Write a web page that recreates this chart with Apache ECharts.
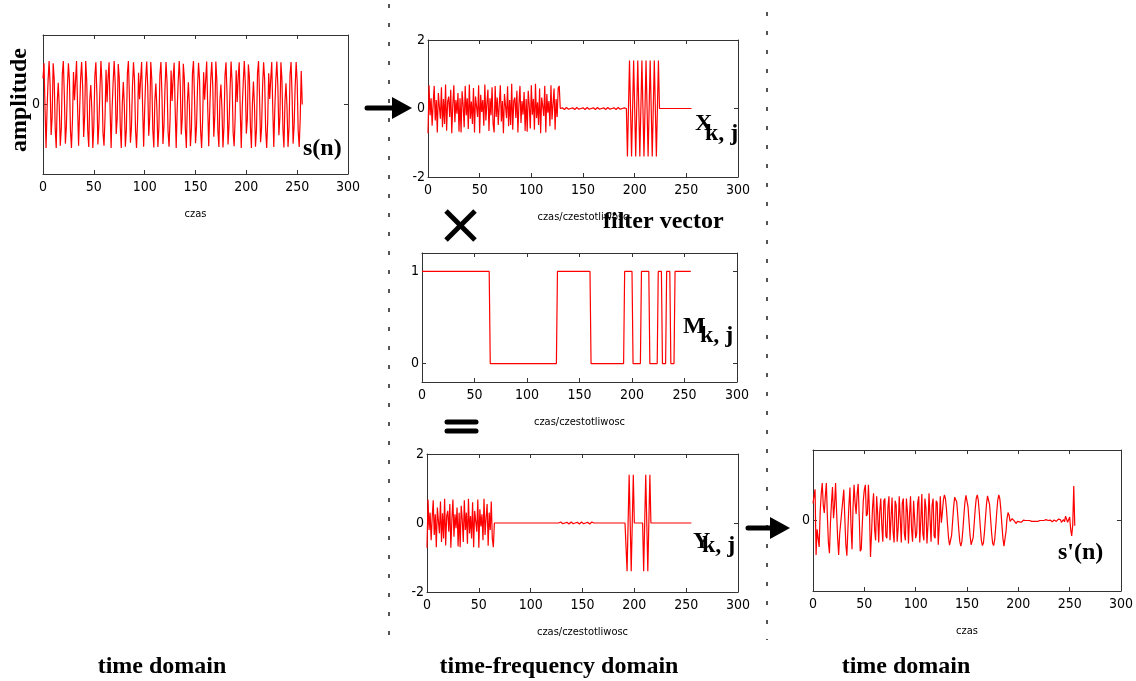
<!DOCTYPE html>
<html><head><meta charset="utf-8">
<script src="https://cdn.jsdelivr.net/npm/echarts@6/dist/echarts.min.js"></script>
<style>html,body{margin:0;padding:0;background:#fff}#c{width:1136px;height:681px}</style>
</head><body><div id="c"></div>
<script>
// ---------- data ----------
const xTickValues = [0, 50, 100, 150, 200, 250, 300];
const xNameTime = 'czas';
const xNameTF = 'czas/czestotliwosc';

// s(n) : original signal, 256 samples
const sSignal = [
 0.60,0.95,-0.10,-1.00,-0.10,0.55,1.00,0.45,-0.70,-0.30,0.95,0.60,-0.55,-1.00,0.05,0.50,-0.05,-0.95,-0.55,0.70,1.00,0.20,-0.90,-0.50,0.40,0.95,0.55,-0.60,-1.00,-0.35,0.75,0.10,
 0.55,1.00,-0.05,-0.95,-0.15,0.60,0.98,0.40,-0.75,-0.25,1.00,0.55,-0.60,-0.98,0.10,0.45,-0.10,-1.00,-0.50,0.65,0.97,0.25,-0.92,-0.45,0.35,1.00,0.50,-0.65,-0.95,-0.30,0.80,0.05,
 0.62,0.97,-0.12,-1.00,-0.08,0.52,1.00,0.48,-0.68,-0.32,0.93,0.62,-0.52,-1.00,0.02,0.52,-0.02,-0.97,-0.58,0.72,1.00,0.18,-0.88,-0.52,0.42,0.97,0.57,-0.58,-1.00,-0.38,0.73,0.12,
 0.58,0.98,-0.08,-0.97,-0.12,0.58,0.99,0.42,-0.72,-0.28,0.98,0.58,-0.58,-0.99,0.08,0.48,-0.08,-0.98,-0.52,0.68,0.98,0.22,-0.91,-0.48,0.38,0.98,0.52,-0.62,-0.97,-0.32,0.78,0.08,
 0.61,0.96,-0.11,-1.00,-0.09,0.54,1.00,0.46,-0.69,-0.31,0.94,0.61,-0.54,-1.00,0.04,0.51,-0.04,-0.96,-0.56,0.71,1.00,0.19,-0.89,-0.51,0.41,0.96,0.56,-0.59,-1.00,-0.36,0.74,0.11,
 0.56,0.99,-0.06,-0.96,-0.14,0.59,0.98,0.41,-0.74,-0.26,0.99,0.56,-0.59,-0.98,0.09,0.46,-0.09,-0.99,-0.51,0.66,0.97,0.24,-0.92,-0.46,0.36,0.99,0.51,-0.64,-0.96,-0.31,0.79,0.06,
 0.63,0.97,-0.13,-1.00,-0.07,0.53,1.00,0.47,-0.67,-0.33,0.92,0.63,-0.51,-1.00,0.03,0.53,-0.03,-0.97,-0.57,0.73,1.00,0.17,-0.87,-0.53,0.43,0.97,0.58,-0.57,-1.00,-0.39,0.72,0.13,
 0.59,0.98,-0.09,-0.98,-0.11,0.57,0.99,0.43,-0.71,-0.29,0.97,0.59,-0.57,-0.99,0.07,0.49,-0.07,-0.98,-0.53,0.69,0.98,0.21,-0.90,-0.49,0.39,0.98,0.53,-0.61,-0.98,-0.33,0.77,0.00
];

// X_{k,j} : time-frequency coefficients, 256 values
const xkCoef = [
 -0.72,0.68,-0.20,0.30,-0.50,0.15,0.66,-0.35,0.25,-0.70,0.45,0.05,-0.30,0.62,-0.55,0.28,
 -0.45,0.70,-0.65,0.20,0.35,-0.25,0.55,-0.72,0.10,0.68,-0.40,0.25,-0.15,0.45,-0.68,0.30,
 -0.70,0.50,0.10,-0.55,0.66,-0.20,0.30,-0.60,0.70,-0.30,0.20,-0.45,0.60,-0.70,0.35,0.05,
 -0.25,0.68,-0.72,0.40,-0.10,0.25,-0.50,0.70,-0.35,0.15,0.55,-0.66,0.30,-0.20,0.62,-0.45,
 -0.70,0.66,-0.25,0.32,-0.48,0.12,0.68,-0.38,0.22,-0.72,0.42,0.08,-0.28,0.65,-0.52,0.25,
 -0.48,0.72,-0.62,0.22,0.32,-0.28,0.52,-0.70,0.12,0.66,-0.42,0.22,-0.18,0.48,-0.66,0.28,
 -0.68,0.52,0.08,-0.58,0.68,-0.18,0.28,-0.62,0.72,-0.28,0.18,-0.48,0.58,-0.72,0.32,0.08,
 -0.22,0.66,-0.70,0.42,-0.12,0.22,-0.52,0.68,-0.32,0.12,0.58,-0.62,0.28,-0.25,0.60,0.66,
 0.00,0.03,0.02,-0.02,-0.03,0.00,0.03,0.02,-0.02,-0.03,0.00,0.03,0.02,-0.02,-0.03,0.00,
 0.03,0.02,-0.02,-0.03,0.00,0.03,0.02,-0.02,-0.03,0.00,0.03,0.02,-0.02,-0.03,0.00,0.03,
 0.02,-0.02,-0.03,0.00,0.03,0.02,-0.02,-0.03,0.00,0.03,0.02,-0.02,-0.03,0.00,0.03,0.02,
 -0.02,-0.03,0.00,0.03,0.02,-0.02,-0.03,0.00,0.03,0.02,-0.02,-0.03,0.00,0.03,0.02,-0.02,
 0,-1.4,0,1.4,0,-1.4,0,1.4,0,-1.4,0,1.4,0,-1.4,0,1.4,
 0,-1.4,0,1.4,0,-1.4,0,1.4,0,-1.4,0,1.4,0,-1.4,0,1.4,
 0,0,0,0,0,0,0,0,0,0,0,0,0,0,0,0,
 0,0,0,0,0,0,0,0,0,0,0,0,0,0,0,0
];

// M_{k,j} : filter vector (step breakpoints)
const mkIndex = [0,64,65,128,129,160,161,192,193,200,201,208,209,216,217,224,225,228,229,232,233,236,237,240,241,256];
const mkValue = [1,1,0,0,1,1,0,0,1,1,0,0,1,1,0,0,1,1,0,0,1,1,0,0,1,1];

// Y_{k,j} : filtered coefficients, 256 values
const ykCoef = [
 -0.72,0.68,-0.20,0.30,-0.50,0.15,0.66,-0.35,0.25,-0.70,0.45,0.05,-0.30,0.62,-0.55,0.28,
 -0.45,0.70,-0.65,0.20,0.35,-0.25,0.55,-0.72,0.10,0.68,-0.40,0.25,-0.15,0.45,-0.68,0.30,
 -0.70,0.50,0.10,-0.55,0.66,-0.20,0.30,-0.60,0.70,-0.30,0.20,-0.45,0.60,-0.70,0.35,0.05,
 -0.25,0.68,-0.72,0.40,-0.10,0.25,-0.50,0.70,-0.35,0.15,0.55,-0.66,0.30,-0.20,0.62,-0.45,
 -0.70,0,0,0,0,0,0,0,0,0,0,0,0,0,0,0,
 0,0,0,0,0,0,0,0,0,0,0,0,0,0,0,0,
 0,0,0,0,0,0,0,0,0,0,0,0,0,0,0,0,
 0,0,0,0,0,0,0,0,0,0,0,0,0,0,0,0,
 0.00,0.03,0.02,-0.02,-0.03,0.00,0.03,0.02,-0.02,-0.03,0.00,0.03,0.02,-0.02,-0.03,0.00,
 0.03,0.02,-0.02,-0.03,0.00,0.03,0.02,-0.02,-0.03,0.00,0.03,0.02,-0.02,-0.03,0.00,0.03,
 0.02,0,0,0,0,0,0,0,0,0,0,0,0,0,0,0,
 0,0,0,0,0,0,0,0,0,0,0,0,0,0,0,0,
 0,-1.4,0,1.4,0,-1.4,0,1.4,0,0,0,0,0,0,0,0,
 0,-1.4,0,1.4,0,-1.4,0,1.4,0,0,0,0,0,0,0,0,
 0,0,0,0,0,0,0,0,0,0,0,0,0,0,0,0,
 0,0,0,0,0,0,0,0,0,0,0,0,0,0,0,0
];

// s'(n) : reconstructed signal, 256 samples
const sRecon = [
 0.39,0.55,0.71,-0.78,-0.20,-0.17,-0.60,0.20,0.60,0.85,0.35,0.17,0.55,0.85,0.10,-0.50,
 -0.74,-0.05,0.40,0.76,0.05,0.35,0.85,0.20,-0.40,-0.78,-0.30,-0.05,0.20,0.45,0.70,0.05,
 -0.55,-0.80,-0.20,0.35,0.75,-0.10,-0.65,0.30,0.81,0.40,0.15,0.60,0.83,0.10,-0.70,-0.65,
 -0.10,0.45,0.70,0.81,0.10,0.15,0.81,0.20,-0.83,-0.30,0.30,0.62,-0.20,-0.45,0.55,0.15,
 -0.50,0.20,0.50,-0.10,-0.48,0.45,0.50,-0.35,-0.40,0.30,0.55,-0.45,0.05,0.52,-0.25,-0.50,
 0.45,0.35,-0.48,-0.15,0.55,0.05,-0.50,0.40,0.50,-0.30,-0.45,0.50,0.20,-0.52,0.10,0.55,
 -0.20,-0.48,0.45,0.45,-0.40,-0.30,0.40,0.55,-0.50,0.00,0.60,-0.30,-0.45,0.50,0.30,-0.52,
 -0.10,0.62,0.05,-0.48,0.35,0.50,-0.35,-0.40,0.45,0.40,-0.55,-0.10,0.55,-0.05,0.18,0.46,
 0.58,0.50,0.26,-0.08,-0.39,-0.56,-0.55,-0.34,-0.02,0.31,0.53,0.57,0.42,0.12,-0.21,-0.48,
 -0.58,-0.48,-0.21,0.12,0.42,0.57,0.53,0.31,-0.02,-0.34,-0.55,-0.56,-0.39,-0.08,0.26,0.50,
 0.58,0.46,0.18,-0.16,-0.45,-0.57,-0.51,-0.27,0.06,0.37,0.56,0.55,0.36,0.04,-0.29,-0.52,
 -0.57,-0.43,-0.14,0.20,0.47,0.58,0.49,0.24,-0.10,-0.40,-0.58,-0.55,-0.25,0.05,0.18,0.12,
 -0.02,-0.06,0.04,0.06,-0.01,-0.05,-0.07,-0.02,0.02,-0.03,-0.06,-0.04,0.00,0.01,0.02,0.00,
 0.01,0.00,-0.01,0.00,-0.01,-0.02,-0.01,-0.02,-0.03,-0.02,-0.01,-0.02,-0.01,0.00,0.01,0.00,
 -0.01,0.00,0.01,0.02,0.01,0.00,0.02,0.01,-0.01,-0.03,-0.02,0.01,0.00,-0.02,-0.03,0.03,
 0.05,0.02,-0.04,-0.05,0.02,-0.03,0.10,0.13,-0.04,-0.08,0.08,-0.20,-0.35,-0.10,0.78,-0.12
];

// ---------- chart ----------
const TICKFONT = '"Liberation Sans Narrow","Arial Narrow","DejaVu Sans Condensed",sans-serif';
const SERIF = '"Liberation Serif","Times New Roman",serif';
const AX = '#333';
const RED = '#ff0000';

const grids = [
  {left: 43,  top: 35,  width: 305, height: 139},
  {left: 428, top: 40,  width: 310, height: 137},
  {left: 422, top: 253, width: 315, height: 129},
  {left: 427, top: 454, width: 311, height: 138},
  {left: 813, top: 450, width: 314, height: 141}
];
const yCfg = [
  {min: -1.6, max: 1.6, ticks: [0]},
  {min: -2, max: 2, ticks: [-2, 0, 2]},
  {min: -0.2, max: 1.2, ticks: [0, 1]},
  {min: -2, max: 2, ticks: [-2, 0, 2]},
  {min: -1.6, max: 1.6, ticks: [0]}
];
const xNames = [xNameTime, xNameTF, xNameTF, xNameTF, xNameTime];

const xAxes = [], yAxes = [];
grids.forEach((g, i) => {
  const common = {gridIndex: i, type: 'value', min: xTickValues[0], max: xTickValues[xTickValues.length - 1],
    splitLine: {show: false},
    axisLine: {show: true, onZero: false, lineStyle: {color: AX, width: 1}},
    axisTick: {show: true, inside: true, length: 4, customValues: xTickValues, lineStyle: {color: AX}}};
  xAxes.push(Object.assign({}, common, {position: 'bottom',
    axisLabel: {show: true, customValues: xTickValues, margin: 6, fontFamily: TICKFONT, fontSize: 14, color: '#000'},
    name: xNames[i], nameLocation: 'middle', nameGap: 35,
    nameTextStyle: {fontFamily: TICKFONT, fontSize: 11, color: '#000', verticalAlign: 'top'}}));
  xAxes.push(Object.assign({}, common, {position: 'top', axisLabel: {show: false}}));
  const yc = yCfg[i];
  const ycommon = {gridIndex: i, type: 'value', min: yc.min, max: yc.max,
    splitLine: {show: false},
    axisLine: {show: true, onZero: false, lineStyle: {color: AX, width: 1}},
    axisTick: {show: true, inside: true, length: 4, customValues: yc.ticks, lineStyle: {color: AX}}};
  yAxes.push(Object.assign({}, ycommon, {position: 'left',
    axisLabel: {show: true, customValues: yc.ticks, margin: 3, fontFamily: TICKFONT, fontSize: 14, color: '#000'}}));
  yAxes.push(Object.assign({}, ycommon, {position: 'right', axisLabel: {show: false}}));
});

const idx = arr => arr.map((v, i) => [i, v]);
const mkData = mkIndex.map((x, i) => [x, mkValue[i]]);
const seriesData = [idx(sSignal), idx(xkCoef), mkData, idx(ykCoef), idx(sRecon)];
const series = seriesData.map((d, i) => ({
  type: 'line', data: d, xAxisIndex: 2 * i, yAxisIndex: 2 * i,
  showSymbol: false, symbol: 'none', silent: true,
  lineStyle: {color: RED, width: 1.2}
}));

function txt(text, x, y, opts) {
  return {type: 'text', x: x, y: y, z: 100,
    style: Object.assign({text: text, fill: '#000', fontFamily: SERIF, fontWeight: 'bold', fontSize: 24,
      textAlign: 'left', textVerticalAlign: 'middle'}, opts || {})};
}
const graphics = [
  // dotted separators
  {type: 'line', shape: {x1: 389, y1: 4, x2: 389, y2: 640}, style: {stroke: '#555', lineWidth: 2, lineDash: [4, 15]}},
  {type: 'line', shape: {x1: 767, y1: 12, x2: 767, y2: 640}, style: {stroke: '#555', lineWidth: 2, lineDash: [4, 15]}},
  // arrows
  {type: 'line', shape: {x1: 367, y1: 108, x2: 396, y2: 108}, style: {stroke: '#000', lineWidth: 5, lineCap: 'round'}},
  {type: 'polygon', shape: {points: [[392, 97], [412, 108], [392, 119]]}, style: {fill: '#000'}},
  {type: 'line', shape: {x1: 748, y1: 528, x2: 774, y2: 528}, style: {stroke: '#000', lineWidth: 5, lineCap: 'round'}},
  {type: 'polygon', shape: {points: [[770, 517], [790, 528], [770, 539]]}, style: {fill: '#000'}},
  // multiply sign
  {type: 'line', shape: {x1: 446, y1: 211, x2: 475, y2: 240}, style: {stroke: '#000', lineWidth: 5}},
  {type: 'line', shape: {x1: 475, y1: 211, x2: 446, y2: 240}, style: {stroke: '#000', lineWidth: 5}},
  // equals sign
  {type: 'line', shape: {x1: 447, y1: 422, x2: 476, y2: 422}, style: {stroke: '#000', lineWidth: 5, lineCap: 'round'}},
  {type: 'line', shape: {x1: 447, y1: 431, x2: 476, y2: 431}, style: {stroke: '#000', lineWidth: 5, lineCap: 'round'}},
  // texts
  Object.assign(txt('amplitude', 20, 100, {textAlign: 'center'}), {rotation: Math.PI / 2}),
  txt('s(n)', 303, 149),
  txt('X', 695, 124),
  txt('k, j', 705, 134),
  txt('filter vector', 603, 222),
  txt('M', 683, 327),
  txt('k, j', 700, 336),
  txt('Y', 693, 542),
  txt('k, j', 702, 546),
  txt("s'(n)", 1058, 553),
  txt('time domain', 162, 667, {textAlign: 'center'}),
  txt('time-frequency domain', 559, 667, {textAlign: 'center'}),
  txt('time domain', 906, 667, {textAlign: 'center'})
];

const chart = echarts.init(document.getElementById('c'), null, {renderer: 'canvas'});
chart.setOption({
  animation: false,
  backgroundColor: '#fff',
  grid: grids,
  xAxis: xAxes,
  yAxis: yAxes,
  series: series,
  graphic: graphics
});
</script>
</body></html>
